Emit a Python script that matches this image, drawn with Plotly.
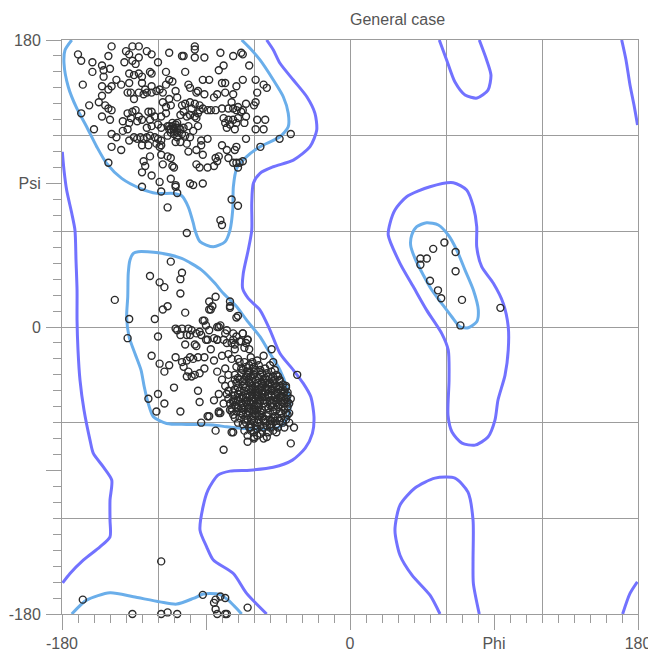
import plotly.graph_objects as go

# ---------------- data (phi, psi in degrees) ----------------
beta_pts = [
    (-149,176),(-136,176),(-132,176),(-170,171),(-168,167),(-151,170),(-140,173),(-138,171),(-141,166),(-136,167),
    (-134,165),(-132,169),(-127,173),(-124,171),(-113,172),(-161,166),(-161,160),(-155,164),(-154,161),(-150,162),
    (-120,166),(-167,152),(-154,157),(-146,155),(-149,151),(-151,149),(-155,151),(-143,152),(-138,153),(-138,159),
    (-135,158),(-132,159),(-130,157),(-125,160),(-124,159),(-130,153),(-128,149),(-124,151),(-115,160),(-113,155),
    (-111,154),(-115,152),(-119,149),(-117,147),(-139,147),(-137,147),(-135,143),(-132,147),(-129,146),(-127,147),
    (-124,147),(-121,148),(-109,148),(-108,144),(-155,145),(-157,141),(-153,139),(-151,137),(-149,136),(-155,132),
    (-150,130),(-163,139),(-168,134),(-139,134),(-136,135),(-134,136),(-132,132),(-130,130),(-133,129),(-137,131),
    (-142,129),(-138,128),(-139,124),(-142,123),(-126,135),(-124,135),(-125,130),(-122,132),(-118,132),(-115,134),
    (-115,138),(-112,139),(-117,141),(-113,143),(-127,125),(-124,126),(-120,127),(-118,125),(-113,126),(-111,128),
    (-109,125),(-112,124),(-110,121),(-108,119),(-160,124),(-149,121),(-146,119),(-138,117),(-135,119),(-133,118),
    (-131,119),(-129,118),(-127,119),(-125,120),(-122,119),(-120,118),(-118,117),(-114,120),(-149,113),(-143,111),
    (-130,114),(-126,114),(-121,115),(-119,113),(-118,114),(-118,108),(-114,107),(-112,106),(-125,107),(-129,104),
    (-128,101),(-130,97),(-124,95),(-151,103),(-117,102),(-111,101),(-110,100),(-130,88),(-119,91),(-112,93),
    (-109,88),(-108,84),(-118,85),(-114,75),
    (-113,124),(-111,126),(-110,124),(-112,122),(-114,126),(-109,127),(-110,123),(-108,122),(-106,124),(-105,121),
    (-97,176),(-97,174),(-105,170),(-104,170),(-97,169),(-91,169),(-81,172),(-73,170),(-68,172),(-67,171),
    (-63,164),(-79,164),(-82,161),(-103,160),(-92,155),(-88,155),(-80,153),(-78,153),(-71,151),(-67,155),
    (-59,155),(-54,152),(-52,150),(-58,147),(-101,152),(-100,150),(-96,147),(-95,148),(-91,146),(-85,144),
    (-83,146),(-78,147),(-73,146),(-59,141),(-60,139),(-74,141),(-73,137),(-70,138),(-65,140),(-67,136),
    (-68,135),(-71,136),(-76,137),(-80,137),(-84,136),(-87,136),(-89,136),(-92,137),(-105,139),(-103,140),
    (-100,141),(-97,140),(-94,139),(-99,137),(-104,135),(-106,133),(-102,132),(-100,133),(-97,132),(-96,131),
    (-95,134),(-94,136),(-79,131),(-76,130),(-73,130),(-70,131),(-65,132),(-78,128),(-75,127),(-71,128),
    (-77,125),(-72,124),(-66,128),(-58,130),(-53,130),(-59,124),(-54,124),(-108,128),(-107,125),(-104,125),
    (-101,126),(-95,126),(-98,123),(-103,120),(-100,119),(-89,118),(-93,117),(-65,118),(-44,118),(-37,121),
    (-56,113),(-109,116),(-106,116),(-102,115),(-101,110),(-96,111),(-93,114),(-92,108),(-80,114),(-77,111),
    (-71,113),(-72,111),(-82,107),(-84,106),(-76,106),(-85,101),(-83,104),(-96,102),(-94,100),(-89,100),
    (-73,103),(-71,103),(-69,103),(-67,104),(-70,100),(-109,89),(-100,90),(-98,89),(-92,90),(-74,80),
    (-70,76),(-81,67),(-80,64),(-102,59),
]

alpha_pts = [
    (-112,41),(-105,34),(-106,30),(-125,32),(-119,28),(-116,25),(-106,21),(-147,17),(-117,11),(-114,13),
    (-103,9),(-138,5),(-122,5),(-139,-7),(-120,-6),(-109,-1),(-108,-2),(-105,-1),(-101,-1),(-99,-2),
    (-106,-5),(-102,-5),(-100,-5),(-91,4),(-90,1),(-88,16),(-87,11),(-97,-11),(-96,-12),(-103,-11),
    (-94,-3),(-93,-5),(-89,-8),(-85,-7),(-124,-18),(-109,-19),(-119,-23),(-116,-28),(-113,-24),(-105,-22),
    (-102,-21),(-100,-19),(-98,-20),(-95,-19),(-91,-19),(-104,-25),(-101,-28),(-99,-31),(-102,-31),(-97,-30),
    (-94,-29),(-91,-26),(-110,-38),(-95,-40),(-94,-47),(-120,-42),(-126,-45),(-116,-48),(-121,-53),(-106,-53),
    (-93,-60),(-89,-56),
    (-84,19),(-75,16),(-75,12),(-88,11),(-70,7),(-71,6),(-92,4),(-83,0),(-77,-2),(-73,-4),
    (-67,-4),(-64,-8),(-96,-4),(-90,-8),(-83,-8),(-79,-8),(-77,-10),(-73,-8),(-71,-6),(-72,-11),
    (-69,-9),(-65,-10),(-63,-14),(-49,-14),(-48,-22),(-33,-30),(-44,-33),(-40,-37),(-39,-43),(-38,-54),
    (-35,-63),(-37,-73),(-64,-72),(-60,-70),(-79,-77),(-74,-66),(-73,-66),(-84,-65),(-82,-53),(-81,-54),
    (-86,13),(-75,13),(-88,-56),(-60,-69),
    (-82,0),(-88,-2),(-81,1),(-78,-4),(-83,-8),(-87,-14),(-85,-21),(-80,-18),(-76,-17),(-72,-14),
    (-74,-10),(-68,-9),(-67,-4),(-64,-8),(-66,-13),(-83,-28),(-80,-33),(-78,-37),(-82,-42),(-85,-46),
    (-79,-48),(-75,-52),(-82,-54),(-73,-46),(-76,-40),
]

core_pts = [
    (-70,-20),(-66,-22),(-62,-19),(-58,-21),(-54,-18),(-50,-24),(-47,-27),(-68,-26),(-64,-28),(-60,-25),
    (-56,-27),(-52,-29),(-48,-31),(-44,-34),(-72,-30),(-69,-33),(-65,-31),(-61,-34),(-57,-32),(-53,-35),
    (-49,-37),(-45,-39),(-42,-42),(-74,-36),(-70,-38),(-66,-36),(-63,-39),(-59,-37),(-55,-40),(-51,-42),
    (-47,-44),(-43,-47),(-40,-45),(-72,-43),(-68,-45),(-64,-42),(-61,-44),(-57,-46),(-53,-44),(-49,-48),
    (-45,-50),(-41,-52),(-75,-48),(-71,-50),(-67,-49),(-63,-51),(-59,-49),(-55,-52),(-51,-54),(-47,-56),
    (-43,-57),(-73,-55),(-69,-57),(-65,-54),(-61,-56),(-57,-58),(-53,-60),(-49,-61),(-45,-63),(-67,-61),
    (-63,-63),(-59,-62),(-55,-65),(-51,-66),(-62,-41),(-58,-43),(-60,-47),(-56,-38),(-64,-46),(-52,-39),
    (-66,-40),(-54,-48),(-58,-52),(-62,-36),(-50,-46),(-56,-55),(-60,-30),(-53,-32),(-46,-41),(-67,-34),
    (-63,-24),(-70,-42),(-48,-53),(-44,-44),(-71,-25),(-76,-30),(-77,-42),(-78,-26),(-74,-20),(-58,-68),
    (-64,-68),(-54,-70),(-48,-65),(-42,-60),(-39,-55),(-40,-38),(-38,-48),(-46,-30),(-42,-36),
    (-61,-39),(-57,-41),(-55,-44),(-59,-45),(-63,-47),(-65,-44),(-53,-50),(-57,-50),(-61,-53),(-55,-35),
    (-59,-33),(-63,-33),(-51,-36),(-49,-40),(-66,-52),(-68,-48),(-70,-46),(-72,-39),(-50,-58),(-52,-62),
    (-56,-62),(-60,-59),(-64,-58),(-46,-47),(-44,-53),(-48,-50),
    (-69,-22),(-65,-25),(-61,-22),(-57,-24),(-53,-26),(-49,-28),(-45,-31),(-71,-35),(-67,-37),(-63,-35),
    (-59,-40),(-55,-37),(-51,-39),(-47,-36),(-43,-40),(-41,-48),(-45,-45),(-49,-43),(-53,-41),(-57,-44),
    (-61,-42),(-65,-47),(-69,-44),(-73,-47),(-71,-53),(-67,-55),(-63,-53),(-59,-55),(-55,-57),(-51,-51),
    (-47,-59),(-43,-54),(-40,-58),(-46,-61),(-50,-63),(-54,-58),(-58,-60),(-62,-61),(-66,-58),(-70,-60),
    (-74,-51),(-76,-45),(-72,-33),(-68,-29),(-64,-30),(-60,-28),(-56,-30),(-52,-33),(-48,-34),(-44,-37),
    (-42,-44),(-39,-50),(-44,-49),(-48,-46),(-52,-47),(-56,-46),(-60,-50),(-64,-49),(-68,-51),(-72,-49),
    (-62,-65),(-56,-67),(-52,-69),(-60,-66),(-66,-65),(-46,-66),(-41,-63),(-38,-60),(-37,-45),(-39,-41),
    (-67,-27),(-63,-29),(-59,-27),(-55,-29),(-51,-31),(-47,-33),(-70,-32),(-66,-33),(-62,-31),(-58,-35),
    (-54,-33),(-50,-35),(-46,-37),(-42,-39),(-73,-41),(-69,-40),(-65,-38),(-61,-37),(-57,-39),(-53,-38),
    (-49,-39),(-45,-42),(-41,-41),(-71,-46),(-67,-43),(-63,-44),(-59,-42),(-55,-42),(-51,-44),(-47,-42),
    (-43,-44),(-39,-47),(-74,-53),(-70,-51),(-66,-50),(-62,-48),(-58,-48),(-54,-46),(-50,-49),(-46,-52),
    (-42,-50),(-72,-57),(-68,-54),(-64,-55),(-60,-52),(-56,-53),(-52,-56),(-48,-57),(-44,-59),(-40,-54),
    (-65,-60),(-61,-58),(-57,-56),(-53,-58),(-49,-59),(-45,-57),(-58,-64),(-54,-63),(-50,-61),(-62,-63),
]

bottom_pts = [
    (-167,-171),(-118,-147),(-136,-180),(-118,-180),(-114,-179),(-108,-180),(-92,-168),(-85,-173),
    (-84,-171),(-81,-169),(-78,-170),(-84,-177),(-83,-180),(-78,-180),(-77,-180),(-64,-176),
]

left_handed_pts = [
    (59,53),(52,49),(66,47),(44,43),(48,43),(44,39),(66,35),(50,29),(55,23),(57,18),(70,17),(69,1),(94,12),
]

# favoured-region contours (light blue)
fav_beta = [(-173.9,180),(-178.1,173.7),(-178.75,165.4),(-176.1,150.7),(-170.8,137.2),(-164.6,125.6),
            (-158.3,113.1),(-152.1,102.6),(-142.7,93.2),(-131.25,87),(-120.8,83.8),(-110.4,83.8),(-105.2,82.3),
            (-101.1,75.4),(-97.9,65),(-96.9,60.8),(-93.75,53.5),(-85.4,50.3),(-78.1,53.5),(-75,60.8),
            (-73.3,73.4),(-72.9,88),(-70.8,99.5),(-64.6,106.8),(-56.25,113.1),(-43.75,119.3),(-38.6,125.6),
            (-38.6,134),(-41.7,144.4),(-47.9,154.9),(-56.25,167.5),(-62.5,174.8),(-67.7,180)]
fav_bottom = [(-173.9,-180),(-164.6,-171.3),(-150,-166.7),(-135.4,-169.2),(-118.75,-172.4),(-108.3,-173.8),
              (-97.9,-170.2),(-91.7,-167.5),(-87.5,-167.1),(-81.25,-167.8),(-76.1,-171.3),(-71.9,-175.5),
              (-67.7,-180)]
fav_alpha = [(-135.4,46.2),(-132.3,47.2),(-119.8,46.6),(-105.2,43),(-92.7,35.7),(-84.4,27.4),(-79.2,21.1),
             (-70.8,12.7),(-64.6,4.3),(-56.25,-6.1),(-50,-16.6),(-43.75,-27),(-39.6,-37.5),(-37.5,-47.9),
             (-38.6,-56.3),(-43.75,-62.6),(-54.2,-64.2),(-66.7,-63.6),(-77.1,-62.6),(-85.4,-61.5),(-102.1,-61.1),
             (-114.6,-60.5),(-122.9,-56.3),(-126.1,-47.9),(-128.6,-37.5),(-130.6,-27),(-134.4,-16.6),
             (-138.1,-6.1),(-139.6,6.4),(-138.9,19),(-138.6,33.6),(-137.5,42),(-135.4,46.2)]
fav_left = [(38.6,57.7),(41.7,62.9),(47.9,65.4),(55.2,64),(61.4,57.7),(66.7,48.3),(71.9,35.7),(77.1,23.2),
            (80.2,10.6),(79.2,3.3),(73.9,-0.5),(68.75,0.1),(63.6,6.4),(57.3,14.8),(51.1,23.2),(45.8,32.6),
            (40.6,43),(37.9,51.4),(38.6,57.7)]

# allowed-region contours (purple)
alw_left_edge = [(-179.8,109.9),(-178.75,98.4),(-177.1,85.9),(-173.9,71.3),(-171.9,60.8),(-171.25,42),
                 (-170.6,23.2),(-170.6,4.4),(-170,-14.5),(-168.75,-33.3),(-166.25,-52.1),(-162.5,-70.9),
                 (-160.4,-79.3),(-154.2,-87.7),(-148.9,-96),(-150,-108.6),(-150,-121.1),(-150,-131.6),
                 (-156.25,-137.9),(-166.7,-146.2),(-175,-154.6),(-179.6,-160.5)]
alw_main = [(-52.1,180),(-47.9,173.7),(-43.75,165.4),(-35.4,154.9),(-27,144.4),(-21.9,134),(-20.8,123.5),
            (-25,113.1),(-35.4,104.7),(-47.9,100.5),(-56.25,96.4),(-60.4,90.1),(-61.4,77.6),(-61.4,60.8),
            (-63.6,48.3),(-66.7,33.6),(-67.1,24.2),(-63.6,17.95),(-56.25,10.6),(-50,-1.9),(-43.75,-16.6),
            (-35.4,-27),(-29.2,-35.4),(-24.5,-43.8),(-22.5,-56.3),(-23.5,-66.7),(-28,-76),(-36,-83.5),
            (-48,-88),(-62.5,-89.8),(-75,-90.4),(-82.5,-92.9),(-88.75,-102.3),(-91.9,-113),(-93.75,-127.4),
            (-89.6,-137.9),(-85.4,-146.2),(-72.9,-154.6),(-64.6,-167.1),(-52.1,-180)]
alw_left_hand = [(25,65),(28.1,73.4),(35.4,81.7),(50,88),(64.6,90.5),(72.9,85.9),(77.1,75.4),(79.2,62.9),
                 (79.2,50.3),(82.3,37.8),(89.6,27.4),(95.8,14.8),(98.9,0.1),(98.9,-14.5),(96.9,-30.2),
                 (92.5,-45.8),(90.6,-58.4),(86.25,-69),(78.1,-74.1),(70,-72.8),(63.75,-65.9),(61.25,-55.3),
                 (61.9,-33.3),(61.4,-14.5),(57.3,-4),(47.9,10.6),(39.6,25.2),(31.25,39.9),(23.9,57.7),(25,65)]
alw_low_right = [(56.25,-180),(50,-168.2),(38.75,-155.6),(31.25,-143.1),(28.1,-127.4),(31.25,-111.7),
                 (40.6,-101),(53.1,-94.8),(65.6,-94.8),(73.75,-103.6),(76.9,-121.1),(76.9,-146.2),
                 (77.1,-160.8),(80.8,-180)]
alw_top_u = [(55.8,180),(60.4,167.5),(65.6,153.6),(71.9,145.5),(79.4,143.6),(86.25,148.6),(88.1,158),
             (85.4,167.5),(80.8,180)]
alw_top_right = [(169.8,180),(172.5,167.5),(175,151.8),(177.5,139.2),(179.7,126.7)]
alw_bottom_right = [(170.4,-180),(175,-167.1),(179.6,-159.8)]

grid_vals = [-180, -120, -60, 0, 60, 120, 180]
tick_vals = [-180, -90, 0, 90, 180]
x_tick_text = ["-180", "", "0", "Phi", "180"]
y_tick_text = ["-180", "", "0", "Psi", "180"]

FAV = "#6AAEEA"
ALW = "#7272FF"
GRID = "#9C9C9C"

fig = go.Figure()

def add_line(pts, color):
    fig.add_trace(go.Scatter(
        x=[p[0] for p in pts], y=[p[1] for p in pts], mode="lines",
        line=dict(color=color, width=3, shape="spline", smoothing=0.7),
        hoverinfo="skip", showlegend=False, xaxis="x", yaxis="y"))

for c in [alw_left_edge, alw_main, alw_left_hand, alw_low_right, alw_top_u, alw_top_right, alw_bottom_right]:
    add_line(c, ALW)
for c in [fav_beta, fav_bottom, fav_alpha, fav_left]:
    add_line(c, FAV)

all_pts = beta_pts + alpha_pts + core_pts + bottom_pts + left_handed_pts
fig.add_trace(go.Scatter(
    x=[p[0] for p in all_pts], y=[p[1] for p in all_pts], mode="markers",
    marker=dict(symbol="circle-open", size=7, color="#2b2b2b", line=dict(width=1.4, color="#2b2b2b")),
    cliponaxis=False, showlegend=False, xaxis="x2", yaxis="y2"))

FONT = "Liberation Sans, Arial, sans-serif"
font_ticks = dict(family=FONT, size=16, color="#555")

common_grid = dict(range=[-180, 180], tickmode="array", tickvals=grid_vals, showticklabels=False, ticks="",
                   showgrid=True, gridcolor=GRID, gridwidth=1.3, zeroline=False, automargin=False,
                   showline=True, linecolor=GRID, linewidth=1.3, mirror=True, fixedrange=True)
common_ticks = dict(range=[-180, 180], tickmode="array", tickvals=tick_vals,
                    ticks="outside", ticklen=15, tickwidth=1.3, tickcolor=GRID, tickfont=font_ticks,
                    minor=dict(tickmode="linear", tick0=0, dtick=10, ticks="outside", ticklen=8,
                               tickwidth=1.3, tickcolor=GRID, showgrid=False),
                    showgrid=False, zeroline=False, showline=False, fixedrange=True, automargin=False)

# the page body has an 8px default margin, so the figure is sized to fit inside the window
W, H = 648, 645
fig.update_layout(
    width=W, height=H,
    margin=dict(l=54, r=18, t=32, b=39, autoexpand=False),
    paper_bgcolor="white", plot_bgcolor="white",
    showlegend=False,
    title=dict(text="General case", x=0.5, xref="paper", xanchor="left",
               y=1 - 11 / H, yref="container", yanchor="middle",
               font=dict(family=FONT, size=16, color="#555")),
    xaxis=common_grid,
    yaxis=common_grid,
    xaxis2=dict(overlaying="x", anchor="y", side="bottom", ticktext=x_tick_text, **common_ticks),
    yaxis2=dict(overlaying="y", anchor="x", side="left", ticktext=y_tick_text,
                ticklabelstandoff=2, **common_ticks),
)

fig.write_html("out.html")
